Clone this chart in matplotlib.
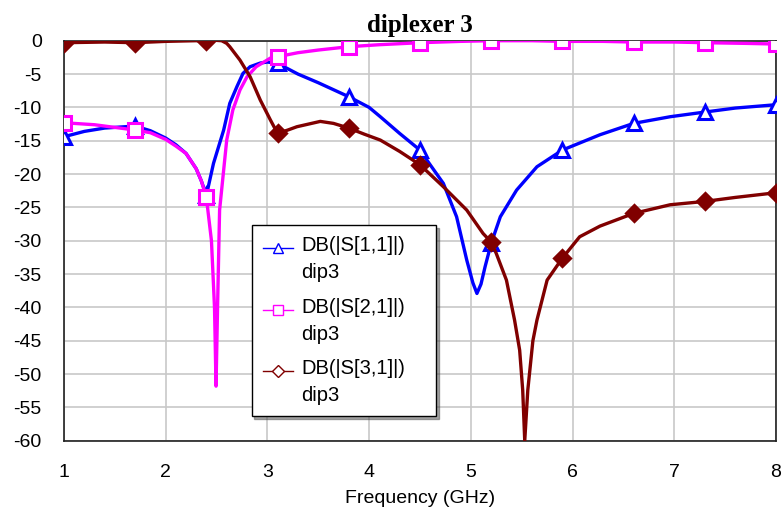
"""
diplexer 3 - S-parameter response (S11, S21, S31) of diplexer "dip3"
"""

import numpy as np
import matplotlib

matplotlib.use("Agg")
import matplotlib.pyplot as plt
from matplotlib.lines import Line2D
from matplotlib.legend_handler import HandlerLine2D

# Data (frequency in GHz, magnitude in dB)
s11_freq = [1.0, 1.2, 1.4, 1.7, 1.85, 2.0, 2.1, 2.2, 2.3, 2.35, 2.4, 2.47, 2.57, 2.63, 2.7,
            2.76, 2.83, 2.93, 3.0, 3.1, 3.3, 3.5, 3.8, 4.0, 4.11, 4.3, 4.5, 4.6, 4.73, 4.86,
            4.96, 5.02, 5.06, 5.1, 5.14, 5.2, 5.29, 5.45, 5.65, 5.9, 6.27, 6.6, 6.96, 7.3,
            7.6, 8.0]
s11_db = [-14.4, -13.6, -13.1, -12.8, -13.5, -14.6, -15.6, -16.9, -19.2, -21.0, -23.2, -18.4,
          -13.4, -9.4, -6.9, -4.9, -3.9, -3.35, -3.2, -3.4, -5.0, -6.3, -8.4, -10.0, -11.4,
          -13.9, -16.4, -18.6, -21.4, -26.4, -32.9, -36.3, -37.9, -36.5, -33.9, -30.4, -26.4,
          -22.4, -18.9, -16.4, -14.1, -12.4, -11.4, -10.7, -10.1, -9.6]

s21_freq = [1.0, 1.3, 1.5, 1.7, 1.85, 2.0, 2.1, 2.2, 2.3, 2.35, 2.4, 2.45, 2.48, 2.495, 2.51,
            2.53, 2.6, 2.66, 2.73, 2.8, 2.89, 3.03, 3.1, 3.3, 3.5, 3.8, 4.1, 4.5, 4.9, 5.2,
            5.6, 5.9, 6.3, 6.6, 7.0, 7.3, 7.7, 8.0]
s21_db = [-12.3, -12.6, -13.0, -13.4, -13.8, -14.8, -15.8, -16.9, -19.2, -21.0, -23.5, -30.0,
          -40.0, -51.8, -40.0, -25.4, -14.9, -10.4, -7.4, -5.4, -3.9, -2.6, -2.4, -1.8, -1.4,
          -0.9, -0.6, -0.3, -0.1, 0.0, 0.0, -0.1, -0.1, -0.2, -0.2, -0.3, -0.4, -0.5]

s31_freq = [1.0, 1.4, 1.7, 2.0, 2.3, 2.4, 2.45, 2.55, 2.6, 2.63, 2.73, 2.83, 2.93, 3.03, 3.1,
            3.2, 3.29, 3.52, 3.65, 3.8, 3.95, 4.11, 4.3, 4.5, 4.73, 4.96, 5.12, 5.2, 5.25,
            5.35, 5.43, 5.48, 5.51, 5.53, 5.56, 5.61, 5.65, 5.75, 5.9, 6.07, 6.27, 6.6, 6.96,
            7.3, 7.6, 8.0]
s31_db = [-0.3, -0.2, -0.3, -0.1, 0.0, -0.1, 0.1, 0.0, -0.4, -0.9, -2.9, -5.4, -8.9, -11.9,
          -13.9, -13.4, -12.9, -12.1, -12.4, -13.1, -14.0, -14.9, -16.6, -18.6, -21.9, -25.4,
          -28.9, -30.2, -31.9, -35.9, -41.9, -46.4, -52.4, -60.0, -52.4, -45.0, -41.9, -35.9,
          -32.6, -29.4, -27.8, -25.9, -24.6, -24.1, -23.5, -22.8]

marker_freq = [1.0, 1.7, 2.4, 3.1, 3.8, 4.5, 5.2, 5.9, 6.6, 7.3, 8.0]
x_ticks = [1, 2, 3, 4, 5, 6, 7, 8]
y_ticks = list(range(-60, 1, 5))

traces = [
    ("DB(|S[1,1]|)\ndip3", s11_freq, s11_db, "#0000ff", "^", "white"),
    ("DB(|S[2,1]|)\ndip3", s21_freq, s21_db, "#ff00ff", "s", "white"),
    ("DB(|S[3,1]|)\ndip3", s31_freq, s31_db, "#800000", "D", "#800000"),
]


class FirstLineHandler(HandlerLine2D):
    """Put the legend symbol next to the first line of a two-line label"""

    def create_artists(self, legend, orig_handle, xdescent, ydescent, width, height, fontsize, trans):
        artists = super().create_artists(legend, orig_handle, xdescent, ydescent, width, height,
                                          fontsize, trans)
        for a in artists:
            a.set_ydata(np.asarray(a.get_ydata()) + 0.57 * fontsize)
        return artists


plt.rcParams["font.family"] = ["Liberation Sans", "DejaVu Sans"]
plt.rcParams["axes.unicode_minus"] = False

fig = plt.figure(figsize=(7.82, 5.12), dpi=100)
ax = fig.add_axes([0.0818, 0.139, 0.9105, 0.7815])

handles = []
for label, f, db, color, marker, face in traces:
    f = np.asarray(f)
    idx = [int(np.argmin(np.abs(f - m))) for m in marker_freq]
    ax.plot(f, db, color=color, lw=2.4, marker=marker, markevery=idx, ms=9.5 if marker != "D" else 8,
            mfc=face, mec=color, mew=2.2, zorder=3)
    handles.append(Line2D([], [], color=color, lw=1.0, marker=marker, ms=7 if marker != "D" else 6,
                          mfc="white", mec=color, mew=1.0, label=label))

ax.set_xlim(1, 8)
ax.set_ylim(-60, 0)
ax.set_xticks(x_ticks)
ax.set_yticks(y_ticks)
ax.tick_params(axis="both", length=0, labelsize=14, colors="black")
ax.tick_params(axis="x", pad=17)
ax.tick_params(axis="y", pad=16)
ax.grid(True, color="#c8c8c8", lw=1.2)
ax.set_axisbelow(True)
for side in ["left", "right", "top", "bottom"]:
    ax.spines[side].set_color("#202020")
    ax.spines[side].set_linewidth(1.2)

ax.set_xlabel("Frequency (GHz)", fontsize=14, labelpad=6)
ax.set_title("diplexer 3", fontsize=18, fontweight="bold", family="Liberation Serif", pad=6)

leg = ax.legend(handles=handles, loc="upper left", bbox_to_anchor=(0.2636, 0.539, 0.259, 0.0),
                mode="expand", fontsize=14.5, frameon=True, fancybox=False, shadow=True,
                edgecolor="black", framealpha=1, borderpad=0.55, labelspacing=0.75,
                handlelength=1.5, handletextpad=0.4, borderaxespad=0,
                handler_map={Line2D: FirstLineHandler(numpoints=1)})
leg.get_frame().set_linewidth(1.0)
for t in leg.get_texts():
    t.set_linespacing(1.55)

fig.savefig("out.png", dpi=100)
